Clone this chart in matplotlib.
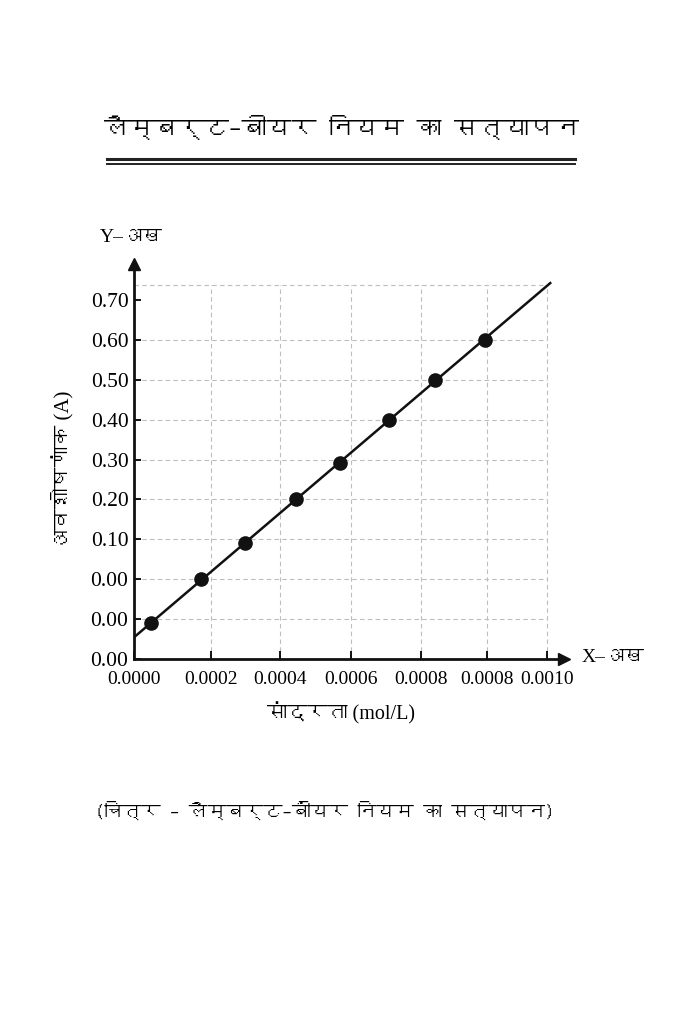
import numpy as np
import matplotlib
matplotlib.use('Agg')
import matplotlib.pyplot as plt
from matplotlib import font_manager
from matplotlib.ft2font import FT2Font
from matplotlib.lines import Line2D

# Datos
concentracion = [0.00005, 0.000195, 0.000323, 0.00047, 0.0006, 0.00074, 0.000875, 0.00102]
absorbancia = [-0.11, 0.00, 0.09, 0.20, 0.29, 0.40, 0.50, 0.60]

# Marcas de los ejes (las etiquetas se copian tal cual, aunque se repitan)
ticks_x = [0.0, 0.000224, 0.000424, 0.000631, 0.000834, 0.001026, 0.0012]
etiquetas_x = ['0.0000', '0.0002', '0.0004', '0.0006', '0.0008', '0.0008', '0.0010']
ticks_y = [-0.2, -0.1, 0.0, 0.1, 0.2, 0.3, 0.4, 0.5, 0.6, 0.7]
etiquetas_y = ['0.00', '0.00', '0.00', '0.10', '0.20', '0.30', '0.40', '0.50', '0.60', '0.70']

titulo = 'लैम्बर्ट–बीयर नियम का सत्यापन'
pie = '(चित्र – लैम्बर्ट–बींयर नियम का सत्यापन)'
etiqueta_eje_x = 'सांद्रता (mol/L)'
etiqueta_eje_y = 'अवशोषणांक (A)'
texto_eje_x = 'X–अख'
texto_eje_y = 'Y–अख'

ANCHO, ALTO = 683, 1024


def buscar_fuente_devanagari():
    """
    Busca entre las fuentes instaladas una que tenga glifos devanagari
    """
    for fuente in font_manager.fontManager.ttflist:
        try:
            if 0x0915 in FT2Font(fuente.fname).get_charmap():
                return fuente.name
        except Exception:
            continue
    return None


def px(x, y):
    # Convierte píxeles de la imagen a fracción de la figura
    return x / ANCHO, 1 - y / ALTO


fuente_dev = buscar_fuente_devanagari()
familia = ['Liberation Serif'] + ([fuente_dev] if fuente_dev else []) + ['DejaVu Sans']
familia_hindi = ([fuente_dev] if fuente_dev else []) + ['Liberation Sans', 'DejaVu Sans']
plt.rcParams['font.family'] = familia

fig = plt.figure(figsize=(ANCHO / 100, ALTO / 100), dpi=100)

# Área del gráfico: eje Y en x=134 px, eje X en y=659 px
x_max, y_min, y_max = 0.00125, -0.2, 0.79
ax = fig.add_axes([134 / ANCHO, (ALTO - 659) / ALTO, 430 / ANCHO, 395 / ALTO])
ax.set_xlim(0, x_max)
ax.set_ylim(y_min, y_max)

# Rejilla discontinua
tope_rejilla = 0.738
ax.hlines(ticks_y[1:-1] + [tope_rejilla], 0, ticks_x[-1], colors='#bdbdbd',
          linestyles=(0, (4, 3)), linewidth=0.8, zorder=1)
ax.vlines(ticks_x[1:], y_min, tope_rejilla, colors='#bdbdbd',
          linestyles=(0, (4, 3)), linewidth=0.8, zorder=1)

# Recta de ajuste y puntos medidos
pendiente, ordenada = np.polyfit(concentracion, absorbancia, 1)
x_linea = np.array([0, 0.00121])
ax.plot(x_linea, pendiente * x_linea + ordenada, color='#111111', linewidth=1.8, zorder=3)
ax.plot(concentracion, absorbancia, 'o', color='#111111', markersize=9.5, zorder=4)

# Ejes con flechas
for lado in ['top', 'right']:
    ax.spines[lado].set_visible(False)
for lado in ['left', 'bottom']:
    ax.spines[lado].set_linewidth(2)
    ax.spines[lado].set_color('#111111')
ax.plot(0, 1, marker='^', markersize=9, color='#111111', transform=ax.transAxes, clip_on=False)
ax.plot(1, 0, marker='>', markersize=9, color='#111111', transform=ax.transAxes, clip_on=False)

ax.set_xticks(ticks_x)
ax.set_xticklabels(etiquetas_x, fontsize=14)
ax.set_yticks(ticks_y)
ax.set_yticklabels(etiquetas_y, fontsize=15.5)
ax.tick_params(axis='x', direction='in', length=6, width=1.3, pad=9)
ax.tick_params(axis='y', direction='in', length=5, width=1.3, pad=4)

# Textos
fig.text(*px(131, 238), texto_eje_y, fontsize=14, ha='center', va='center')
fig.text(*px(582, 657), texto_eje_x, fontsize=14, ha='left', va='center')
fig.text(*px(62, 470), etiqueta_eje_y, fontsize=15, rotation=90, ha='center', va='center')
fig.text(*px(341, 713), etiqueta_eje_x, fontsize=14.5, ha='center', va='center')

# Título con doble subrayado
fig.text(*px(341, 128), titulo, fontsize=18, fontweight='bold', ha='center', va='center',
         family=familia_hindi)
fig.add_artist(Line2D([107 / ANCHO, 575 / ANCHO], [1 - 159 / ALTO] * 2, color='#222222', linewidth=2.2))
fig.add_artist(Line2D([107 / ANCHO, 575 / ANCHO], [1 - 163.5 / ALTO] * 2, color='#222222', linewidth=1.4))

fig.text(*px(325, 810), pie, fontsize=13.5, fontweight='bold', ha='center', va='center',
         family=familia_hindi)

fig.savefig('out.png', dpi=100)
plt.close(fig)
